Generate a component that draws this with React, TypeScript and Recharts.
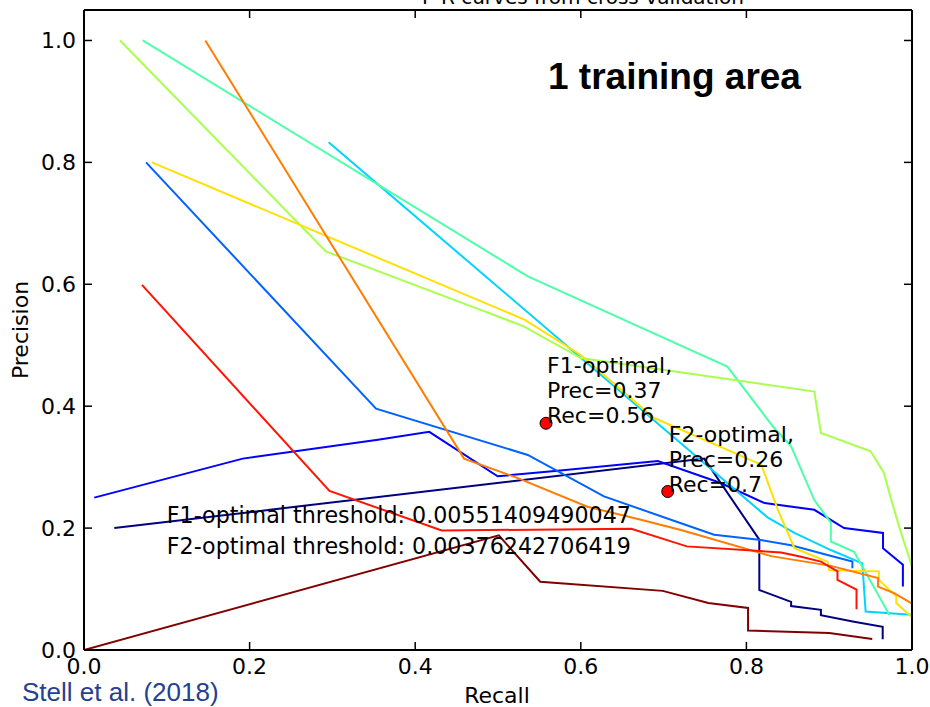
import React from "react";
import { LineChart, Line, XAxis, YAxis, ReferenceDot } from "recharts";

// ---- tick labels ----
const xTicks = [0, 0.2, 0.4, 0.6, 0.8, 1.0];
const yTicks = [0, 0.2, 0.4, 0.6, 0.8, 1.0];

// ---- P-R curves per cross-validation fold: [recall, precision] ----
const fold0: [number, number][] = [
  [0.0366, 0.2], [0.749, 0.314], [0.8156, 0.181], [0.8156, 0.0985], [0.854, 0.079],
  [0.854, 0.072], [0.89, 0.066], [0.89, 0.057], [0.93, 0.0465], [0.9646, 0.038], [0.9646, 0.0176],
];
const fold1: [number, number][] = [
  [0.0124, 0.25], [0.1917, 0.314], [0.355, 0.345], [0.417, 0.358], [0.4996, 0.285],
  [0.572, 0.294], [0.693, 0.31], [0.769, 0.274], [0.822, 0.241], [0.882, 0.23],
  [0.918, 0.2], [0.965, 0.192], [0.965, 0.167], [0.989, 0.14], [0.989, 0.104],
];
const fold2: [number, number][] = [
  [0.0749, 0.8], [0.3527, 0.396], [0.536, 0.32], [0.628, 0.252], [0.721, 0.208],
  [0.761, 0.189], [0.815, 0.181], [0.854, 0.172], [0.898, 0.156], [0.928, 0.145], [0.928, 0.134],
];
const fold3: [number, number][] = [
  [0.2955, 0.833], [0.826, 0.217], [0.858, 0.192], [0.902, 0.164], [0.94, 0.142],
  [0.944, 0.063], [0.999, 0.058],
];
const fold4: [number, number][] = [
  [0.071, 1.0], [0.536, 0.613], [0.777, 0.465], [0.833, 0.365], [0.854, 0.334],
  [0.882, 0.246], [0.902, 0.209], [0.902, 0.178], [0.93, 0.161], [0.973, 0.057],
];
const fold5: [number, number][] = [
  [0.0435, 1.0], [0.292, 0.654], [0.479, 0.558], [0.531, 0.531], [0.6, 0.479],
  [0.882, 0.424], [0.89, 0.356], [0.95, 0.326], [0.966, 0.291], [0.975, 0.246],
  [0.985, 0.2], [1.0, 0.137],
];
const fold6: [number, number][] = [
  [0.082, 0.8], [0.532, 0.542], [0.6, 0.484], [0.688, 0.381], [0.818, 0.304],
  [0.838, 0.23], [0.858, 0.167], [0.898, 0.145], [0.9, 0.131], [0.96, 0.129],
  [0.96, 0.115], [0.981, 0.088], [0.981, 0.077], [0.999, 0.055],
];
const fold7: [number, number][] = [
  [0.1465, 1.0], [0.459, 0.314], [0.524, 0.282], [0.608, 0.235], [0.669, 0.215],
  [0.721, 0.197], [0.83, 0.154], [0.902, 0.138], [0.959, 0.118], [0.959, 0.104],
  [0.979, 0.093], [0.999, 0.077],
];
const fold8: [number, number][] = [
  [0.07, 0.599], [0.2965, 0.261], [0.432, 0.196], [0.661, 0.199], [0.728, 0.17],
  [0.842, 0.16], [0.866, 0.153], [0.89, 0.145], [0.91, 0.129], [0.91, 0.115],
  [0.933, 0.099], [0.933, 0.067],
];
const fold9: [number, number][] = [
  [0.0, 0.0], [0.501, 0.188], [0.551, 0.112], [0.699, 0.097], [0.754, 0.077],
  [0.802, 0.069], [0.802, 0.032], [0.9, 0.028], [0.952, 0.018],
];

const foldColors = [
  "#000080", "#0000ff", "#0063ff", "#00d4ff", "#4dffa9",
  "#a9ff4d", "#ffe000", "#ff7d00", "#ff1400", "#800000",
];
const folds = [fold0, fold1, fold2, fold3, fold4, fold5, fold6, fold7, fold8, fold9];

// ---- optimal points ----
const f1Point = { recall: 0.558, precision: 0.372, lines: ["F1-optimal,", "Prec=0.37", "Rec=0.56"] };
const f2Point = { recall: 0.705, precision: 0.26, lines: ["F2-optimal,", "Prec=0.26", "Rec=0.7"] };
const thresholdNotes = [
  { recall: 0.1, precision: 0.2, text: "F1-optimal threshold: 0.00551409490047" },
  { recall: 0.1, precision: 0.15, text: "F2-optimal threshold: 0.00376242706419" },
];

const FONT = "'DejaVu Sans', sans-serif";
const FS = 22;

const BottomTick = (props: any) => {
  const { x, y, payload } = props;
  return (
    <g>
      <line x1={x} y1={y} x2={x} y2={y - 8} stroke="#000" strokeWidth={1.5} />
      <text x={x} y={y + 24} textAnchor="middle" fontFamily={FONT} fontSize={FS} fill="#000">
        {Number(payload.value).toFixed(1)}
      </text>
    </g>
  );
};
const TopTick = (props: any) => {
  const { x, y } = props;
  return <line x1={x} y1={y} x2={x} y2={y + 8} stroke="#000" strokeWidth={1.5} />;
};
const LeftTick = (props: any) => {
  const { x, y, payload } = props;
  return (
    <g>
      <line x1={x} y1={y} x2={x + 8} y2={y} stroke="#000" strokeWidth={1.5} />
      <text x={x - 8} y={y + 8} textAnchor="end" fontFamily={FONT} fontSize={FS} fill="#000">
        {Number(payload.value).toFixed(1)}
      </text>
    </g>
  );
};
const RightTick = (props: any) => {
  const { x, y } = props;
  return <line x1={x} y1={y} x2={x - 8} y2={y} stroke="#000" strokeWidth={1.5} />;
};

const optimalShape = (lines: string[]) => (p: any) => {
  const { cx, cy } = p;
  return (
    <g>
      <circle cx={cx} cy={cy} r={6} fill="#ff0000" stroke="#000" strokeWidth={1} />
      {lines.map((t, i) => (
        <text key={i} x={cx + 1} y={cy - (lines.length - 1 - i) * 25} fontFamily={FONT} fontSize={FS} fill="#000">
          {t}
        </text>
      ))}
    </g>
  );
};
const noteShape = (text: string) => (p: any) => {
  const { cx, cy } = p;
  return (
    <text x={cx} y={cy - 5} fontFamily={FONT} fontSize={22.2} fill="#000">
      {text}
    </text>
  );
};

export default function App() {
  const axisLine = { stroke: "#000", strokeWidth: 2 };
  return (
    <div style={{ position: "absolute", left: 0, top: 0, width: 930, height: 707, background: "#fff" }}>
      <LineChart width={930} height={707} margin={{ top: 0, right: 0, bottom: 0, left: 0 }}>
        <XAxis
          dataKey="x"
          type="number"
          domain={[0, 1]}
          ticks={xTicks}
          allowDataOverflow
          height={57}
          tickSize={0}
          tickMargin={0}
          tickLine={false}
          axisLine={axisLine}
          tick={<BottomTick />}
          interval={0}
        />
        <XAxis
          xAxisId="top"
          orientation="top"
          dataKey="x"
          type="number"
          domain={[0, 1]}
          ticks={xTicks}
          allowDataOverflow
          height={10}
          tickSize={0}
          tickMargin={0}
          tickLine={false}
          axisLine={axisLine}
          tick={<TopTick />}
          interval={0}
        />
        <YAxis
          type="number"
          domain={[0, 1.05]}
          ticks={yTicks}
          allowDataOverflow
          width={84}
          tickSize={0}
          tickMargin={0}
          tickLine={false}
          axisLine={axisLine}
          tick={<LeftTick />}
          interval={0}
        />
        <YAxis
          yAxisId="right"
          orientation="right"
          type="number"
          domain={[0, 1.05]}
          ticks={yTicks}
          allowDataOverflow
          width={18}
          tickSize={0}
          tickMargin={0}
          tickLine={false}
          axisLine={axisLine}
          tick={<RightTick />}
          interval={0}
        />
        {folds.map((pts, i) => (
          <Line
            key={i}
            data={pts.map(([x, y]) => ({ x, y }))}
            dataKey="y"
            type="linear"
            stroke={foldColors[i]}
            strokeWidth={2}
            dot={false}
            activeDot={false}
            isAnimationActive={false}
          />
        ))}
        <ReferenceDot x={f1Point.recall} y={f1Point.precision} r={6} shape={optimalShape(f1Point.lines)} />
        <ReferenceDot x={f2Point.recall} y={f2Point.precision} r={6} shape={optimalShape(f2Point.lines)} />
        {thresholdNotes.map((n, i) => (
          <ReferenceDot key={i} x={n.recall} y={n.precision} r={1} shape={noteShape(n.text)} />
        ))}
      </LineChart>
      <svg width={930} height={707} style={{ position: "absolute", left: 0, top: 0, pointerEvents: "none" }}>
        <text x={583} y={4} textAnchor="middle" fontFamily={FONT} fontSize={20} fill="#000">
          P-R curves from cross-validation
        </text>
        <text x={548} y={89} fontFamily="'Liberation Sans', Arial, sans-serif" fontWeight="bold" fontSize={37} fill="#000">
          1 training area
        </text>
        <text x={28} y={330} transform="rotate(-90 28 330)" textAnchor="middle" fontFamily={FONT} fontSize={FS} fill="#000">
          Precision
        </text>
        <text x={497} y={703} textAnchor="middle" fontFamily={FONT} fontSize={FS} fill="#000">
          Recall
        </text>
        <text x={22} y={701} fontFamily="'Liberation Sans', Arial, sans-serif" fontSize={26} fill="#24418f">
          Stell et al. (2018)
        </text>
      </svg>
    </div>
  );
}
